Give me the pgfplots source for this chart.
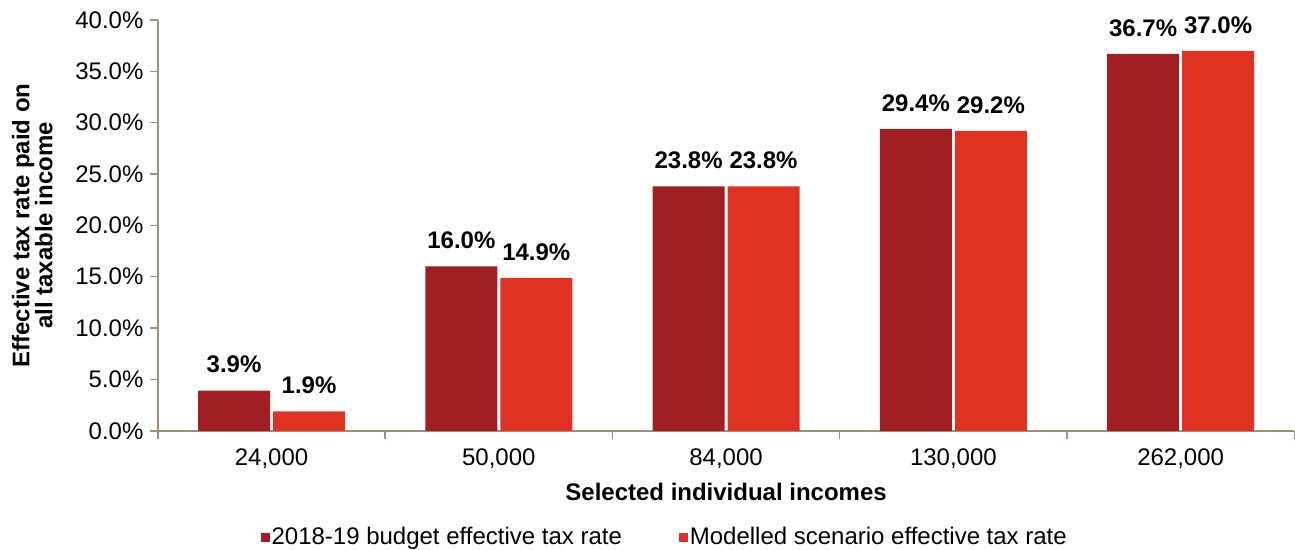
\documentclass[border=0pt]{standalone}
\usepackage{pgfplots}
\pgfplotsset{compat=1.18}
\usepackage{fontspec}
\setmainfont{Liberation Sans}
\definecolor{darkred}{HTML}{A11F22}
\definecolor{brightred}{HTML}{E03222}
\definecolor{axisgray}{HTML}{9C9178}
\begin{document}
\begin{tikzpicture}
\begin{axis}[
  at={(0,0)}, anchor=south west,
  scale only axis, width=1137pt, height=411pt,
  ybar=3pt, bar width=72pt,
  xmin=-0.5, xmax=4.5, ymin=0, ymax=40,
  axis lines=left, axis line style={-, axisgray, line width=1.5pt},
  xtick={0,1,2,3,4},
  xticklabels={24{,}000,50{,}000,84{,}000,130{,}000,262{,}000},
  major x tick style={draw=none},
  minor xtick={-0.5,0.5,1.5,2.5,3.5,4.5},
  minor x tick style={axisgray, line width=1.5pt},
  minor tick length=8pt,
  ytick={0,5,...,40},
  y tick style={axisgray, line width=1.5pt},
  major tick length=8pt,
  tick align=outside,
  yticklabel={\pgfmathprintnumber[fixed,fixed zerofill,precision=1]{\tick}\%},
  /pgf/number format/assume math mode=true,
  tick label style={font=\fontsize{24}{28}\selectfont, text=black},
  yticklabel style={xshift=-3pt},
  xticklabel style={yshift=-6pt},
  xlabel={Selected individual incomes},
  xlabel style={font=\fontsize{24}{28}\selectfont\bfseries, yshift=-8pt},
  ylabel={Effective tax rate paid on\\all taxable income},
  ylabel style={font=\fontsize{24}{23}\selectfont\bfseries, align=center, yshift=16pt},
  nodes near coords={\pgfmathprintnumber[fixed,fixed zerofill,precision=1]{\pgfplotspointmeta}\%},
  nodes near coords style={font=\fontsize{24}{28}\selectfont\bfseries, text=black, yshift=14pt},
  point meta=explicit symbolic,
  legend style={draw=none, at={(0.446,-0.258)}, anchor=center, legend columns=2,
    font=\fontsize{24}{28}\selectfont, /tikz/every even column/.append style={column sep=55pt},
    inner sep=0pt},
  legend image code/.code={\fill[#1] (0pt,-5pt) rectangle (9pt,4pt);},
  legend cell align=left,
  clip=false,
]
\addplot[fill=darkred, draw=none, point meta=y] coordinates {(0,3.9) (1,16.0) (2,23.8) (3,29.4) (4,36.7)};
\addlegendentry{2018-19 budget effective tax rate}
\addplot[fill=brightred, draw=none, point meta=y] coordinates {(0,1.9) (1,14.9) (2,23.8) (3,29.2) (4,37.0)};
\addlegendentry{Modelled scenario effective tax rate}
\end{axis}
\path[use as bounding box] (-158pt,-119pt) rectangle (1137pt,431pt);
\end{tikzpicture}
\end{document}
